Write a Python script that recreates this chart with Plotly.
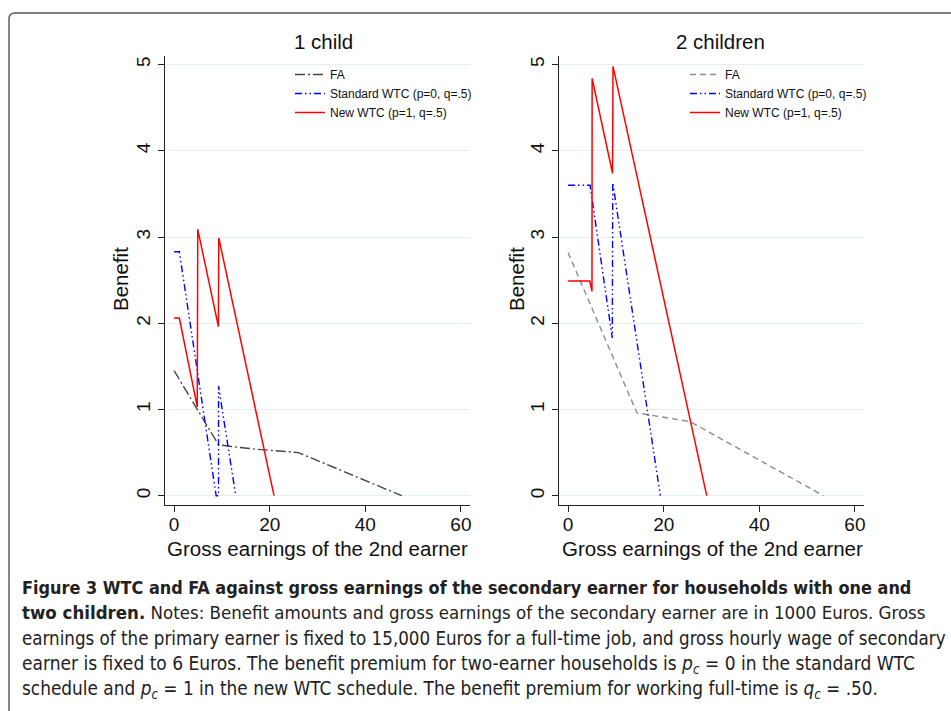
import plotly.graph_objects as go

W, H = 951, 711

# ---------------- data (1000 Euros) ----------------
# 1 child
fa1_x = [0, 9.3, 12, 17, 26, 47.6]
fa1_y = [1.45, 0.59, 0.57, 0.54, 0.50, 0.0]
std1_x = [0, 1.1, 8.8, 9.3, 9.3, 12.9]
std1_y = [2.83, 2.83, 0.0, 0.0, 1.27, 0.0]
new1_x = [0, 1.1, 4.85, 4.95, 9.27, 9.35, 20.9]
new1_y = [2.06, 2.06, 1.03, 3.09, 1.96, 2.99, 0.0]

# 2 children
fa2_x = [0, 14.4, 25.5, 53.4]
fa2_y = [2.82, 0.96, 0.86, 0.0]
std2_x = [0, 4.6, 9.25, 9.35, 19.3]
std2_y = [3.60, 3.60, 1.83, 3.63, 0.0]
new2_x = [0, 4.54, 5.0, 5.03, 9.3, 9.4, 29.0]
new2_y = [2.49, 2.49, 2.37, 4.84, 3.74, 4.98, 0.0]

x_ticks = [0, 20, 40, 60]
y_ticks = [0, 1, 2, 3, 4, 5]
panel_titles = ["1 child", "2 children"]
series_names = ["FA", "Standard WTC (p=0, q=.5)", "New WTC (p=1, q=.5)"]


def px_x(p):
    return p / W


def px_y(p):
    return 1 - p / H


FONT = "Liberation Sans, Arial, Helvetica, sans-serif"
CAP_FONT = "Liberation Sans Narrow, DejaVu Sans Condensed, Liberation Sans, sans-serif"

fig = go.Figure()

fa1_line = dict(color="#444444", width=1.4, dash="10px,3px,2px,3px")
fa2_line = dict(color="#8c8c8c", width=1.4, dash="6px,4px")
std_line = dict(color="#0000ff", width=1.4, dash="7px,3px,1.5px,3px,1.5px,3px")
new_line = dict(color="#ff0000", width=1.5)

fig.add_trace(go.Scatter(x=fa1_x, y=fa1_y, mode="lines", name=series_names[0],
                         line=fa1_line, xaxis="x", yaxis="y", legend="legend"))
fig.add_trace(go.Scatter(x=std1_x, y=std1_y, mode="lines", name=series_names[1],
                         line=std_line, xaxis="x", yaxis="y", legend="legend"))
fig.add_trace(go.Scatter(x=new1_x, y=new1_y, mode="lines", name=series_names[2],
                         line=new_line, xaxis="x", yaxis="y", legend="legend"))

fig.add_trace(go.Scatter(x=fa2_x, y=fa2_y, mode="lines", name=series_names[0],
                         line=fa2_line, xaxis="x2", yaxis="y2", legend="legend2"))
fig.add_trace(go.Scatter(x=std2_x, y=std2_y, mode="lines", name=series_names[1],
                         line=std_line, xaxis="x2", yaxis="y2", legend="legend2"))
fig.add_trace(go.Scatter(x=new2_x, y=new2_y, mode="lines", name=series_names[2],
                         line=new_line, xaxis="x2", yaxis="y2", legend="legend2"))

ydom = [px_y(505), px_y(56)]
xr = [-1.9, 61.9]
yr = [-0.108, 5.1]

common_x = dict(range=xr, tickvals=x_ticks, ticks="outside", ticklen=6, tickwidth=1.2,
                tickcolor="#222", showline=True, linecolor="#222", linewidth=1.4,
                showgrid=False, zeroline=False, ticklabelstandoff=-4,
                tickfont=dict(family=FONT, size=19, color="#111"))
common_y = dict(range=yr, tickvals=y_ticks, ticks="outside", ticklen=6, tickwidth=1.2,
                tickcolor="#222", showline=True, linecolor="#222", linewidth=1.4,
                showgrid=True, gridcolor="#e6eff0", gridwidth=1, zeroline=False,
                tickangle=-90, tickfont=dict(family=FONT, size=19, color="#111"))

fig.update_layout(
    width=W, height=H,
    margin=dict(l=0, r=0, t=0, b=0),
    paper_bgcolor="white", plot_bgcolor="white",
    xaxis=dict(domain=[px_x(165), px_x(470)], anchor="y", **common_x),
    yaxis=dict(domain=ydom, anchor="x", **common_y),
    xaxis2=dict(domain=[px_x(559), px_x(864)], anchor="y2", **common_x),
    yaxis2=dict(domain=ydom, anchor="x2", **common_y),
    legend=dict(x=px_x(290), y=px_y(60), xanchor="left", yanchor="top",
                bgcolor="rgba(0,0,0,0)", font=dict(family=FONT, size=12, color="#111")),
    legend2=dict(x=px_x(685), y=px_y(60), xanchor="left", yanchor="top",
                 bgcolor="rgba(0,0,0,0)", font=dict(family=FONT, size=12, color="#111")),
    showlegend=True,
)

ann = []
# panel titles
ann.append(dict(text=panel_titles[0], x=px_x(323), y=px_y(42)))
ann.append(dict(text=panel_titles[1], x=px_x(720), y=px_y(42)))
# axis titles
ann.append(dict(text="Gross earnings of the 2nd earner", x=px_x(317), y=px_y(548)))
ann.append(dict(text="Gross earnings of the 2nd earner", x=px_x(712), y=px_y(548)))
ann.append(dict(text="Benefit", x=px_x(120), y=px_y(279), textangle=-90))
ann.append(dict(text="Benefit", x=px_x(516), y=px_y(279), textangle=-90))
for a in ann:
    a.update(xref="paper", yref="paper", showarrow=False, xanchor="center", yanchor="middle",
             font=dict(family=FONT, size=20.5, color="#111"))

caption = [
    "<b>Figure 3 WTC and FA against gross earnings of the secondary earner for households with one and</b>",
    "<b>two children.</b> Notes: Benefit amounts and gross earnings of the secondary earner are in 1000 Euros. Gross",
    "earnings of the primary earner is fixed to 15,000 Euros for a full-time job, and gross hourly wage of secondary",
    "earner is fixed to 6 Euros. The benefit premium for two-earner households is <i>p<sub>c</sub></i> = 0 in the standard WTC",
    "schedule and <i>p<sub>c</sub></i> = 1 in the new WTC schedule. The benefit premium for working full-time is <i>q<sub>c</sub></i> = .50.",
]
cap_y = [587, 612, 638, 664, 690]
cap_size = [17.9, 18.5, 18.6, 19.0, 18.85]
for t, yy, s in zip(caption, cap_y, cap_size):
    ann.append(dict(text=t, x=px_x(20), y=px_y(yy), xref="paper", yref="paper", showarrow=False,
                    xanchor="left", yanchor="middle",
                    font=dict(family=CAP_FONT, size=s, color="#222")))

fig.update_layout(annotations=ann)

# rounded frame
x0, y0, r = 9, 13, 6
path = (f"M {px_x(x0)},{px_y(H + 5)} L {px_x(x0)},{px_y(y0 + r)} "
        f"Q {px_x(x0)},{px_y(y0)} {px_x(x0 + r)},{px_y(y0)} L {px_x(W + 5)},{px_y(y0)}")
fig.add_shape(type="path", path=path, xref="paper", yref="paper",
              line=dict(color="#555", width=1.4))

fig.write_html("out.html", config={"displayModeBar": False},
               post_script="document.body.style.margin='0px';document.body.style.overflow='hidden';")
